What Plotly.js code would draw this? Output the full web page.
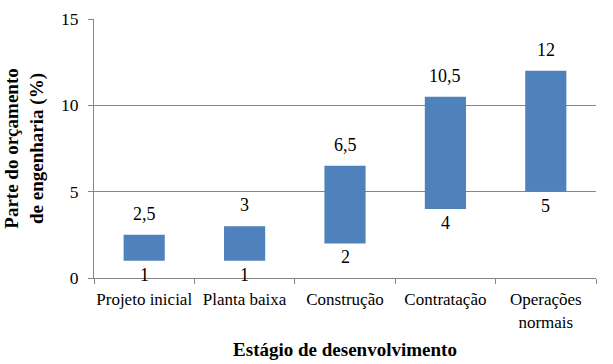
<!DOCTYPE html>
<html>
<head>
<meta charset="utf-8">
<script src="https://cdn.plot.ly/plotly-3.0.1.min.js"></script>
<style>html,body{margin:0;padding:0;background:#fff;}#chart{width:613px;height:364px;}</style>
</head>
<body>
<div id="chart"></div>
<script>
const categories = ["Projeto inicial", "Planta baixa", "Construção", "Contratação", "Operações<br>normais"];
const lowValues = [1, 1, 2, 4, 5];
const highValues = [2.5, 3, 6.5, 10.5, 12];
const lowLabels = ["1", "1", "2", "4", "5"];
const highLabels = ["2,5", "3", "6,5", "10,5", "12"];
const yTicks = [0, 5, 10, 15];

const fontFam = "Liberation Serif";
const barColor = "#4F81BD";

const trace = {
  type: "bar",
  x: categories,
  base: lowValues,
  y: highValues.map((h, i) => h - lowValues[i]),
  width: 0.41,
  marker: {color: barColor},
  hoverinfo: "skip"
};

const annotations = [];
categories.forEach((c, i) => {
  annotations.push({x: c, y: highValues[i], text: highLabels[i], showarrow: false,
    xref: "x", yref: "y", yanchor: "middle", yshift: 21,
    font: {family: fontFam, size: 18, color: "#000", weight: "normal"}});
  annotations.push({x: c, y: lowValues[i], text: lowLabels[i], showarrow: false,
    xref: "x", yref: "y", yanchor: "middle", yshift: -14,
    font: {family: fontFam, size: 18, color: "#000", weight: "normal"}});
});

const layout = {
  width: 613, height: 364,
  margin: {l: 94, r: 17, t: 19, b: 86},
  paper_bgcolor: "#fff", plot_bgcolor: "#fff",
  showlegend: false,
  font: {family: fontFam, size: 17, color: "#000"},
  xaxis: {
    type: "category",
    tickson: "boundaries",
    tickangle: 0,
    ticks: "outside", ticklen: 5, tickcolor: "#868686",
    ticklabelstandoff: 6,
    showline: true, linecolor: "#868686", linewidth: 1,
    showgrid: false,
    tickfont: {family: fontFam, size: 17, color: "#000", weight: "normal"},
    title: {text: "Estágio de desenvolvimento", font: {family: fontFam, size: 19, color: "#000", weight: "bold"}, standoff: 12}
  },
  yaxis: {
    range: [0, 15],
    tickvals: yTicks,
    ticktext: yTicks.map(String),
    ticks: "outside", ticklen: 5, tickcolor: "#868686",
    ticklabelstandoff: 6,
    showline: true, linecolor: "#868686", linewidth: 1,
    showgrid: true, gridcolor: "#868686", gridwidth: 1,
    zeroline: false,
    tickfont: {family: fontFam, size: 17.5, color: "#000", weight: "normal"},
    title: {text: "Parte do orçamento<br>de engenharia (%)", font: {family: fontFam, size: 19, color: "#000", weight: "bold"}, standoff: 12}
  },
  annotations: annotations
};

Plotly.newPlot("chart", [trace], layout, {displayModeBar: false, staticPlot: true});
</script>
</body>
</html>
